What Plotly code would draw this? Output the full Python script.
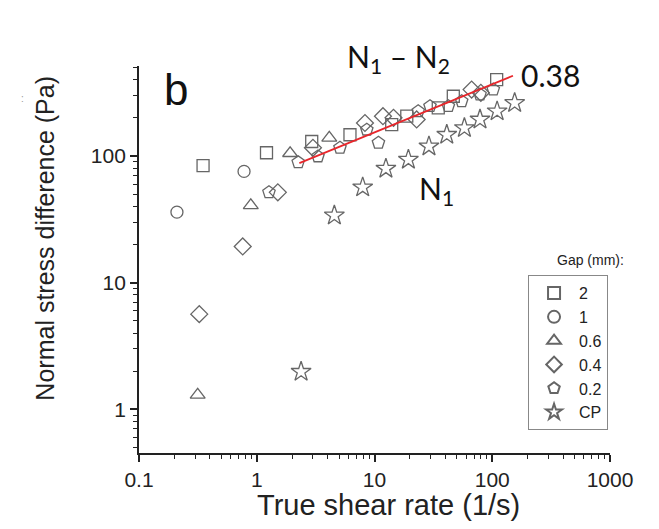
import plotly.graph_objects as go
import numpy as np

# ---- data ----
gap2_x = [0.35, 1.21, 2.93, 6.19, 14.0, 18.8, 34.8, 46.7, 109]
gap2_y = [84, 106, 130, 147, 177, 206, 240, 296, 401]

gap1_x = [0.21, 0.78]
gap1_y = [36, 75.5]

gap06_x = [0.315, 0.89, 1.92, 4.13]
gap06_y = [1.30, 40.7, 105, 139]

gap04_x = [0.325, 0.76, 1.51, 3.0, 8.3, 11.8, 14.5, 22.8, 66.8, 80]
gap04_y = [5.64, 19.3, 51.6, 116, 182, 206, 200, 194, 334, 315]

gap02_x = [1.27, 2.25, 3.31, 5.09, 8.6, 10.8, 23.5, 29.6, 42.4, 55, 78.7, 102]
gap02_y = [51.6, 89, 99, 116, 161, 127, 225, 247, 247, 270, 305, 334]

cp_x = [2.38, 4.56, 7.94, 12.5, 19.4, 29.0, 41.1, 58.0, 78.7, 110, 155]
cp_y = [1.98, 33.9, 56.5, 79.4, 93.5, 119, 147, 166, 194, 225, 262]

fit_exponent = 0.38
fit_prefactor = 64
fit_x = np.array([2.3, 150])
fit_y = fit_prefactor * fit_x ** fit_exponent

x_ticks = [0.1, 1, 10, 100, 1000]
x_ticktext = ["0.1", "1", "10", "100", "1000"]
y_ticks = [1, 10, 100]
y_ticktext = ["1", "10", "100"]

series = [
    ("2", gap2_x, gap2_y, "square-open", 12),
    ("1", gap1_x, gap1_y, "circle-open", 12),
    ("0.6", gap06_x, gap06_y, "triangle-up-open", 13),
    ("0.4", gap04_x, gap04_y, "diamond-open", 13),
    ("0.2", gap02_x, gap02_y, "pentagon-open", 13),
    ("CP", cp_x, cp_y, "star-open", 15),
]

mcol = "#666666"
fig = go.Figure()
for name, xs, ys, sym, sz in series:
    fig.add_trace(go.Scatter(
        x=xs, y=ys, mode="markers", name=name,
        marker=dict(symbol=sym, size=sz, color=mcol, line=dict(width=1.3, color=mcol)),
    ))

fig.add_trace(go.Scatter(x=fit_x, y=fit_y, mode="lines", showlegend=False,
                         line=dict(color="#e8262b", width=1.8)))

def minor_vals(lo, hi):
    out = []
    for d in range(lo, hi):
        for k in range(2, 10):
            out.append(k * 10 ** d)
    return out

axis_col = "#222"
fig.update_layout(
    width=659, height=529,
    margin=dict(l=139, r=49, t=66, b=76),
    paper_bgcolor="white", plot_bgcolor="white",
    font=dict(family="Liberation Sans, Arial", color=axis_col),
    showlegend=True,
    legend=dict(
        x=0.826, y=0.059, xanchor="left", yanchor="bottom",
        bordercolor="#888", borderwidth=1, bgcolor="white",
        font=dict(size=16, color=axis_col),
        itemwidth=40, tracegroupgap=0, itemsizing="constant",
    ),
    xaxis=dict(
        type="log", range=[-1, 3],
        tickvals=x_ticks, ticktext=x_ticktext,
        ticks="outside", ticklen=7, tickwidth=1.5, tickcolor=axis_col,
        showline=True, linecolor=axis_col, linewidth=1.8,
        showgrid=False, zeroline=False,
        tickfont=dict(size=21, color=axis_col),
        minor=dict(tickvals=minor_vals(-1, 3), ticks="outside", ticklen=4, tickwidth=1.3, tickcolor=axis_col, showgrid=False),
    ),
    yaxis=dict(
        type="log", range=[-0.345, 2.71],
        tickvals=y_ticks, ticktext=y_ticktext,
        ticks="outside", ticklen=7, tickwidth=1.5, tickcolor=axis_col,
        showline=True, linecolor=axis_col, linewidth=1.8,
        showgrid=False, zeroline=False,
        tickfont=dict(size=21, color=axis_col),
        minor=dict(tickvals=minor_vals(-1, 3), ticks="outside", ticklen=4, tickwidth=1.3, tickcolor=axis_col, showgrid=False),
    ),
)

def ann(text, x, y, font, angle=0):
    fig.add_annotation(text=text, xref="paper", yref="paper", x=x, y=y,
                       xanchor="center", yanchor="middle", showarrow=False,
                       textangle=angle, font=font)

# axis titles
ann("True shear rate (1/s)", 0.529, -0.134, dict(size=29, color=axis_col))
ann("Normal stress difference (Pa)", -0.2, 0.556, dict(size=25, color=axis_col), angle=-90)

ann_font = dict(family="Lato, Noto Sans", size=30, color="#111")
ann("b", 0.079, 0.94, dict(family="Liberation Sans, Arial", size=44, color="#111"))
ann("N<sub>1</sub> – N<sub>2</sub>", 0.552, 1.02, ann_font)
ann("0.38", 0.873, 0.977, ann_font)
ann("N<sub>1</sub>", 0.631, 0.68, ann_font)
ann("Gap (mm):", 0.958, 0.5, dict(family="Liberation Sans, Arial", size=14, color=axis_col))
ann(":", -0.248, 0.915, dict(size=10, color="#999"))

fig.write_html("out.html")
